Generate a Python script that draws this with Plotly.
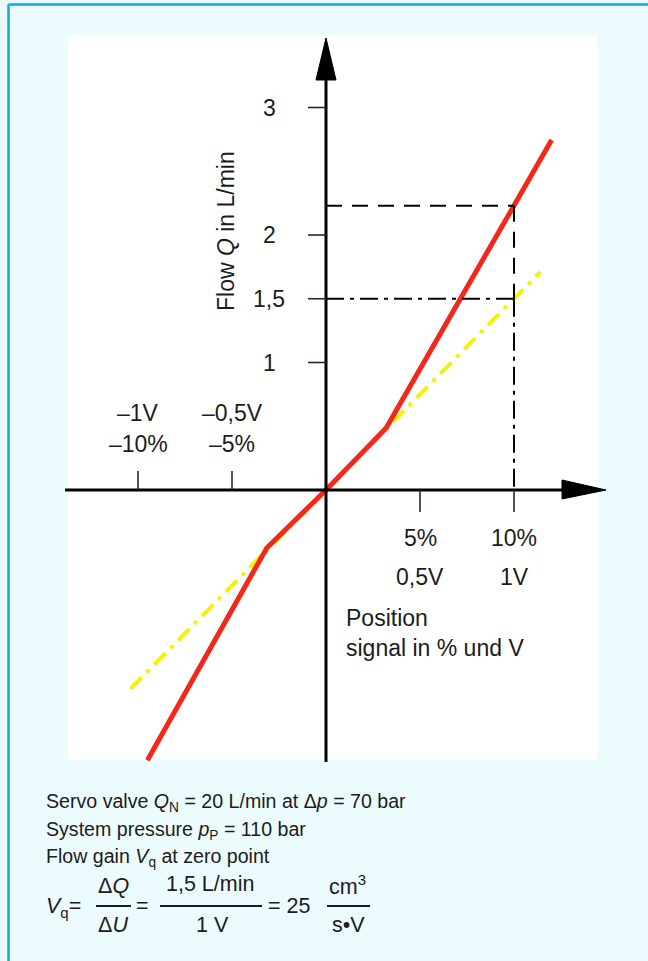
import plotly.graph_objects as go

# ---- data -------------------------------------------------------------
# real valve characteristic: position signal (%) vs. flow (L/min)
signal_pct = [-9.5, -3.15, 0.0, 3.2, 12.0]
flow_lpm = [-2.12, -0.455, 0.0, 0.486, 2.745]

# linearised flow gain at the zero point (1,5 L/min per 10 %)
gain_pct = [-10.4, 11.4]
gain_lpm = [-1.56, 1.71]

# read-off points at 10 % signal
readoff_pct = 10.0
readoff_actual = 2.23
readoff_gain = 1.5

y_ticks = [1.0, 1.5, 2.0, 3.0]
y_tick_text = ["1", "1,5", "2", "3"]

x_ticks_neg = [-10, -5]
x_neg_volt = ["\u20131V", "\u20130,5V"]
x_neg_pct = ["\u201310%", "\u20135%"]
x_ticks_pos = [5, 10]
x_pos_pct = ["5%", "10%"]
x_pos_volt = ["0,5V", "1V"]

# ---- page geometry (pixels) ---------------------------------------------
W, H = 648, 961
X0_PX, Y0_PX = 326, 490          # origin position
PX_PER_PCT, PX_PER_LPM = 18.8, 127.5

x_lo = -X0_PX / PX_PER_PCT
x_hi = (W - X0_PX) / PX_PER_PCT
y_hi = Y0_PX / PX_PER_LPM
y_lo = -(H - Y0_PX) / PX_PER_LPM


def dx(px):
    """pixel column -> signal units"""
    return (px - X0_PX) / PX_PER_PCT


def dy(py):
    """pixel row -> flow units"""
    return (Y0_PX - py) / PX_PER_LPM


def py(p):
    """pixel row -> paper fraction"""
    return 1 - p / H


def pxp(p):
    return p / W


FONT = "Liberation Sans, Arial, sans-serif"
TXT = "#1c1c1c"

fig = go.Figure()

# linear gain line (yellow, dash-dot) underneath the real curve
fig.add_trace(go.Scatter(
    x=gain_pct, y=gain_lpm, mode="lines",
    line=dict(color="#f2f20a", width=4, dash="16px,7px,4px,7px"),
    hoverinfo="skip", showlegend=False))

# real characteristic (red)
fig.add_trace(go.Scatter(
    x=signal_pct, y=flow_lpm, mode="lines",
    line=dict(color="#f5261a", width=5),
    hoverinfo="skip", showlegend=False))

shapes = []
# background, border and white panel
shapes.append(dict(type="rect", xref="paper", yref="paper", x0=0, x1=1, y0=0, y1=1,
                   fillcolor="#ecfbfe", line=dict(width=0), layer="below"))
shapes.append(dict(type="rect", xref="paper", yref="paper",
                   x0=pxp(68), x1=pxp(598), y0=py(760), y1=py(35),
                   fillcolor="#ffffff", line=dict(width=0), layer="below"))
shapes.append(dict(type="line", xref="paper", yref="paper",
                   x0=pxp(8.5), x1=pxp(8.5), y0=0, y1=py(4.5),
                   line=dict(color="#1aa3e2", width=2.5)))
shapes.append(dict(type="line", xref="paper", yref="paper",
                   x0=pxp(8.5), x1=1, y0=py(4.5), y1=py(4.5),
                   line=dict(color="#1aa3e2", width=2.5)))

AX = dict(color="#000000", width=3)
# horizontal axis with arrow
shapes.append(dict(type="line", x0=dx(65), x1=dx(565), y0=0, y1=0, line=AX))
shapes.append(dict(type="path", path=f"M {dx(562)},{dy(480)} L {dx(606)},0 L {dx(562)},{dy(499)} Z",
                   fillcolor="#000000", line=dict(color="#000000", width=1)))
# vertical axis with arrow
shapes.append(dict(type="line", x0=0, x1=0, y0=dy(762), y1=dy(77), line=AX))
shapes.append(dict(type="path", path=f"M {dx(316)},{dy(80)} L 0,{dy(38)} L {dx(336)},{dy(80)} Z",
                   fillcolor="#000000", line=dict(color="#000000", width=1)))

TICK = dict(color="#2b2b1a", width=1.6)
for v in y_ticks:
    shapes.append(dict(type="line", x0=dx(X0_PX - 18), x1=0, y0=v, y1=v, line=TICK))
for v in x_ticks_neg:
    shapes.append(dict(type="line", x0=v, x1=v, y0=0, y1=dy(Y0_PX - 19), line=TICK))
for v in x_ticks_pos:
    shapes.append(dict(type="line", x0=v, x1=v, y0=0, y1=dy(Y0_PX + 22), line=TICK))

# read-off construction lines
DASH = dict(color="#000000", width=2, dash="16px,10px")
DASHDOT = dict(color="#000000", width=2, dash="18px,6px,4px,6px")
shapes.append(dict(type="line", x0=0, x1=readoff_pct, y0=readoff_actual, y1=readoff_actual, line=DASH))
shapes.append(dict(type="line", x0=readoff_pct, x1=readoff_pct, y0=readoff_actual, y1=readoff_gain, line=DASH))
shapes.append(dict(type="line", x0=0, x1=readoff_pct, y0=readoff_gain, y1=readoff_gain, line=DASHDOT))
shapes.append(dict(type="line", x0=readoff_pct, x1=readoff_pct, y0=readoff_gain, y1=0, line=DASHDOT))

ann = []
FS = 23
AF = dict(size=FS, color=TXT, family=FONT)
for v, t in zip(y_ticks, y_tick_text):
    ann.append(dict(x=dx(269), y=v, text=t, showarrow=False, xanchor="center", yanchor="middle", font=AF))
for v, tv, tp in zip(x_ticks_neg, x_neg_volt, x_neg_pct):
    ann.append(dict(x=v, y=dy(413), text=tv, showarrow=False, xanchor="center", yanchor="middle", font=AF))
    ann.append(dict(x=v, y=dy(444), text=tp, showarrow=False, xanchor="center", yanchor="middle", font=AF))
for v, tp, tv in zip(x_ticks_pos, x_pos_pct, x_pos_volt):
    ann.append(dict(x=v, y=dy(538), text=tp, showarrow=False, xanchor="center", yanchor="middle", font=AF))
    ann.append(dict(x=v, y=dy(577), text=tv, showarrow=False, xanchor="center", yanchor="middle", font=AF))

ann.append(dict(x=dx(344), y=dy(618), text="Position", showarrow=False, xanchor="left", yanchor="middle",
                font=AF))
ann.append(dict(x=dx(344), y=dy(648), text="signal in % und V", showarrow=False, xanchor="left",
                yanchor="middle", font=AF))
ann.append(dict(x=dx(226), y=dy(231), text="Flow <i>Q</i> in L/min", textangle=-90, showarrow=False,
                xanchor="center", yanchor="middle", font=AF))

# caption block
CAP = dict(size=19.6, color=TXT, family=FONT)
cap_lines = [
    (802, "Servo valve <i>Q</i><sub>N</sub> = 20 L/min at \u0394<i>p</i> = 70 bar"),
    (830, "System pressure <i>p</i><sub>P</sub> = 110 bar"),
    (857, "Flow gain <i>V</i><sub>q</sub> at zero point"),
]
for yy, t in cap_lines:
    ann.append(dict(xref="paper", yref="paper", x=pxp(44), y=py(yy), text=t, showarrow=False,
                    xanchor="left", yanchor="middle", font=CAP))

# flow gain formula
FORM = dict(size=21.5, color=TXT, family=FONT)


def ptxt(x, y, t, anchor="center"):
    ann.append(dict(xref="paper", yref="paper", x=pxp(x), y=py(y), text=t, showarrow=False,
                    xanchor=anchor, yanchor="middle", font=FORM))


def bar(x0, x1, y):
    shapes.append(dict(type="line", xref="paper", yref="paper", x0=pxp(x0), x1=pxp(x1),
                       y0=py(y), y1=py(y), line=dict(color=TXT, width=1.8)))


ptxt(44, 907, "<i>V</i><sub>q</sub>=", "left")
ptxt(113, 886, "\u0394<i>Q</i>")
bar(96, 131, 906)
ptxt(113, 925, "\u0394<i>U</i>")
ptxt(142, 906, "=")
ptxt(210, 884, "1,5 L/min")
bar(160, 262, 906)
ptxt(212, 925, "1 V")
ptxt(289, 906, "= 25")
ptxt(347, 885, "cm<sup>3</sup>")
bar(327, 370, 906)
ptxt(348, 925, "s\u2022V")

fig.update_layout(
    width=W, height=H,
    margin=dict(l=0, r=0, t=0, b=0),
    paper_bgcolor="#ecfbfe", plot_bgcolor="rgba(0,0,0,0)",
    xaxis=dict(range=[x_lo, x_hi], visible=False, fixedrange=True),
    yaxis=dict(range=[y_lo, y_hi], visible=False, fixedrange=True),
    shapes=shapes, annotations=ann, showlegend=False,
)

fig.write_html("out.html")
